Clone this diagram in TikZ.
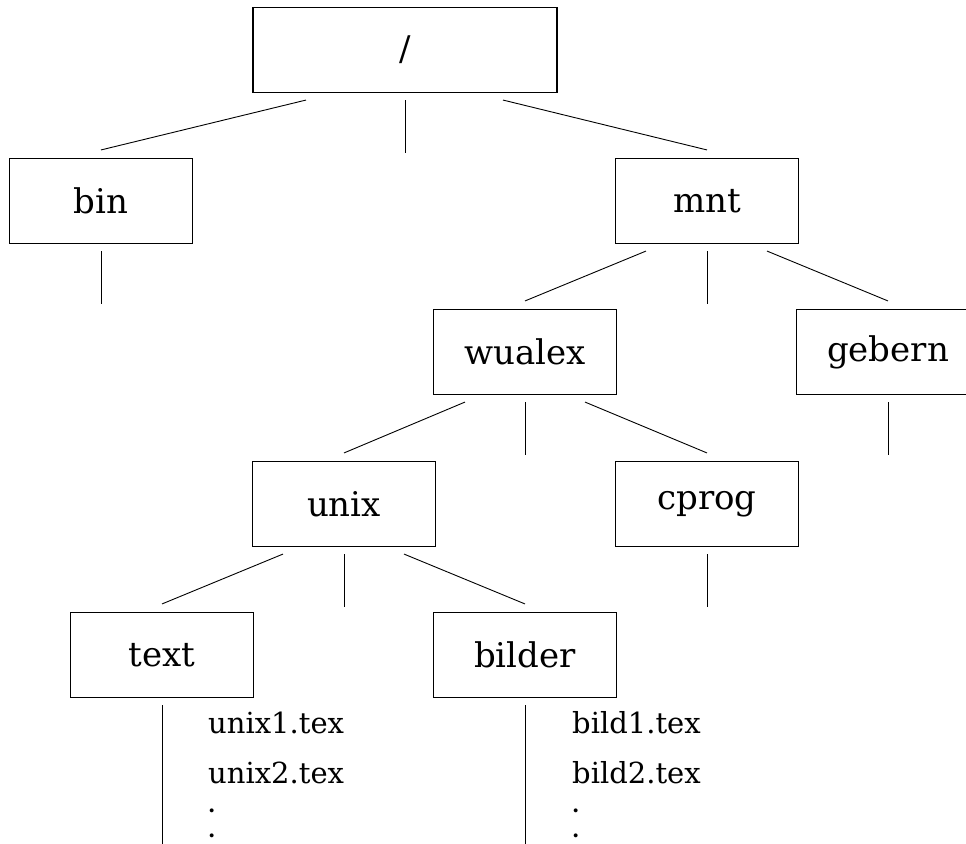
\documentclass[tikz,border=0pt]{standalone}
\usepackage{fontspec}
\setmainfont{DejaVu Serif}
\newcommand\dirfont{\fontsize{34}{40}\selectfont}
\newcommand\filefont{\fontsize{29}{34}\selectfont}
\newcommand\dotfont{\fontsize{21}{25}\selectfont\bfseries}
\tikzset{
  dir/.style={draw, line width=1.1pt, minimum width=183pt, minimum height=85pt, inner sep=0pt, font=\dirfont},
  rootdir/.style={dir, minimum width=304pt},
  file/.style={anchor=base west, inner sep=0pt, font=\filefont},
  filedots/.style={file, align=left, font=\dotfont},
  branch/.style={line width=0.9pt},
}
\begin{document}
\begin{tikzpicture}[x=1pt,y=-1pt]
	\useasboundingbox (0,0) rectangle (966,843);
	% directories
	\node[rootdir] (root) at (405,50) {/};
	\node[dir] (bin) at (101,201) {bin};
	\node[dir] (mnt) at (707,201) {mnt};
	\node[dir] (wualex) at (525,352) {wualex};
	\node[dir] (gebern) at (888,352) {gebern};
	\node[dir] (unix) at (344,504) {unix};
	\node[dir] (cprog) at (707,504) {cprog};
	\node[dir] (text) at (162,655) {text};
	\node[dir] (bilder) at (525,655) {bilder};
	% files
	\node[file] (unixa) at (208,733) {unix1.tex};
	\node[file] (unixb) at (208,783) {unix2.tex};
	\node[filedots] (unixc) at (208,837) {.\\.};
	\node[file] (bilda) at (572,733) {bild1.tex};
	\node[file] (bildb) at (572,783) {bild2.tex};
	\node[filedots] (bildc) at (572,837) {.\\.};
	% branches
	\foreach \p/\c/\dx in {root/bin/-99, root/mnt/98, mnt/wualex/-61, mnt/gebern/60,
			wualex/unix/-60, wualex/cprog/60, unix/text/-61, unix/bilder/60}
		\draw[branch] ([xshift=\dx,yshift=-7]\p.south) -- ([yshift=8]\c.north);
	\foreach \n in {root,bin,mnt,wualex,gebern,unix,cprog}{
		\coordinate (\n-end) at ([yshift=-60]\n.south);
		\draw[branch] ([yshift=-7]\n.south) -- (\n-end);
	}
	\foreach \n in {text,bilder}{
		\coordinate (\n-end) at ([yshift=-146]\n.south);
		\draw[branch] ([yshift=-7]\n.south) -- (\n-end);
	}
\end{tikzpicture}
\end{document}
